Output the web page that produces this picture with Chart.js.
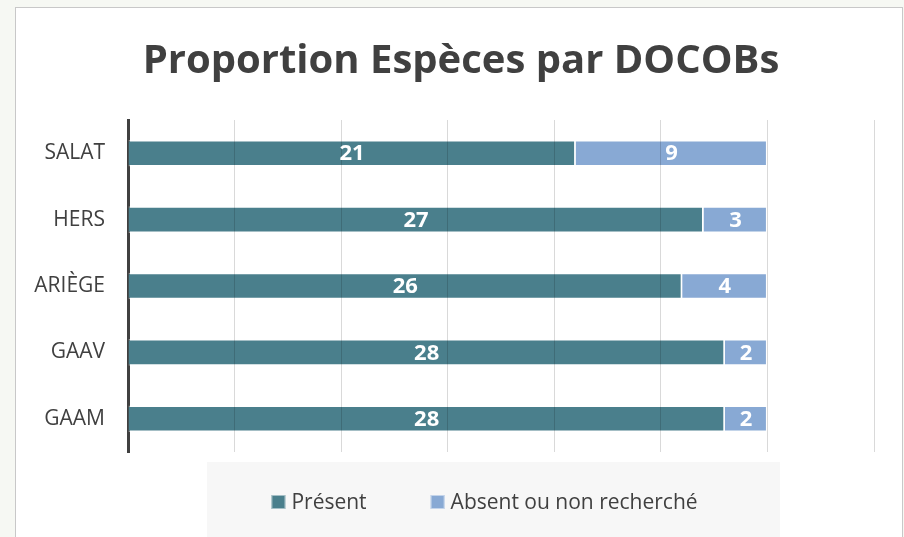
<!DOCTYPE html>
<html>
<head>
<meta charset="utf-8">
<script src="https://cdn.jsdelivr.net/npm/chart.js@4"></script>
<style>
  html, body { margin: 0; padding: 0; overflow: hidden; }
  body { width: 904px; height: 537px; background: #f6f8f3; position: relative; }
  #frame { position: absolute; left: 15px; top: 7px; width: 886px; height: 540px;
           background: #fff; border: 1px solid #c8c8c8; }
  #chart { display: block; }
</style>
</head>
<body>
<div id="frame"><canvas id="chart" width="886" height="529"></canvas></div>
<script>
// Données
const categories = ['SALAT', 'HERS', 'ARIÈGE', 'GAAV', 'GAAM'];
const present = [21, 27, 26, 28, 28];
const absent = [9, 3, 4, 2, 2];
const seriesNames = ['Présent', 'Absent ou non recherché'];
const seriesColors = ['#4A7F8C', '#88A9D4'];
const chartTitle = 'Proportion Espèces par DOCOBs';

const FONT = "'Open Sans', 'Noto Sans', sans-serif";
const TEXT = '#404040';

// Titre centré sur le cadre
const titlePlugin = {
    id: 'titlePlugin',
    afterDraw(chart) {
        const ctx = chart.ctx;
        ctx.save();
        ctx.font = 'bold 40px ' + FONT;
        ctx.fillStyle = TEXT;
        ctx.textAlign = 'center';
        ctx.textBaseline = 'middle';
        ctx.fillText(chartTitle, 445, 54);
        ctx.restore();
    }
};

// Valeurs écrites en blanc au centre de chaque segment
const barLabels = {
    id: 'barLabels',
    afterDraw(chart) {
        const ctx = chart.ctx;
        ctx.save();
        ctx.font = 'bold 22px ' + FONT;
        ctx.fillStyle = '#fff';
        ctx.textAlign = 'center';
        ctx.textBaseline = 'middle';
        chart.data.datasets.forEach((ds, i) => {
            chart.getDatasetMeta(i).data.forEach((bar, j) => {
                ctx.fillText(ds.data[j], (bar.x + bar.base) / 2, bar.y + 1);
            });
        });
        ctx.restore();
    }
};

// Légende sur fond gris clair
const boxLegend = {
    id: 'boxLegend',
    afterDraw(chart) {
        const ctx = chart.ctx;
        const area = chart.chartArea;
        ctx.save();
        ctx.fillStyle = '#f7f7f7';
        ctx.fillRect(191, area.bottom + 10, 573, 100);

        ctx.font = '21px ' + FONT;
        ctx.textBaseline = 'middle';
        const box = 14, gap = 6, itemGap = 67;
        const items = chart.data.datasets.map(ds => ({
            text: ds.label, color: ds.backgroundColor,
            w: box + gap + ctx.measureText(ds.label).width
        }));
        const total = items.reduce((s, it) => s + it.w, 0) + itemGap * (items.length - 1);
        let x = 470 - total / 2;
        const y = area.bottom + 50;
        items.forEach(it => {
            ctx.fillStyle = it.color;
            ctx.fillRect(x, y - box / 2, box, box);
            ctx.strokeStyle = 'rgba(255,255,255,0.5)';
            ctx.lineWidth = 1;
            ctx.strokeRect(x + 0.5, y - box / 2 + 0.5, box - 1, box - 1);
            ctx.fillStyle = TEXT;
            ctx.fillText(it.text, x + box + gap, y + 1);
            x += it.w + itemGap - 3;
        });
        ctx.restore();
    }
};

new Chart(document.getElementById('chart'), {
    type: 'bar',
    data: {
        labels: categories,
        datasets: [
            {
                label: seriesNames[0],
                data: present,
                backgroundColor: seriesColors[0],
                borderColor: 'rgba(255,255,255,0.45)',
                borderWidth: 1.5,
                barPercentage: 0.4,
                categoryPercentage: 1
            },
            {
                label: seriesNames[1],
                data: absent,
                backgroundColor: seriesColors[1],
                borderColor: 'rgba(255,255,255,0.45)',
                borderWidth: 1.5,
                barPercentage: 0.4,
                categoryPercentage: 1
            }
        ]
    },
    options: {
        indexAxis: 'y',
        responsive: false,
        animation: false,
        layout: { padding: { left: 0, right: 28, top: 112, bottom: 85 } },
        plugins: {
            legend: { display: false },
            tooltip: { enabled: false },
            title: { display: false }
        },
        scales: {
            x: {
                stacked: true,
                min: 0,
                max: 35,
                ticks: { display: false, stepSize: 5 },
                border: { display: false },
                grid: {
                    z: 1,
                    drawTicks: false,
                    color: ctx => ctx.tick && ctx.tick.value === 0 ? 'rgba(0,0,0,0)' : 'rgba(0,0,0,0.15)'
                }
            },
            y: {
                stacked: true,
                afterFit(scale) { scale.width = 112; },
                ticks: { color: TEXT, padding: 23, font: { family: FONT, size: 21 } },
                grid: { display: false, drawTicks: false },
                border: { display: true, color: '#404040', width: 3 }
            }
        }
    },
    plugins: [titlePlugin, barLabels, boxLegend]
});
</script>
</body>
</html>
